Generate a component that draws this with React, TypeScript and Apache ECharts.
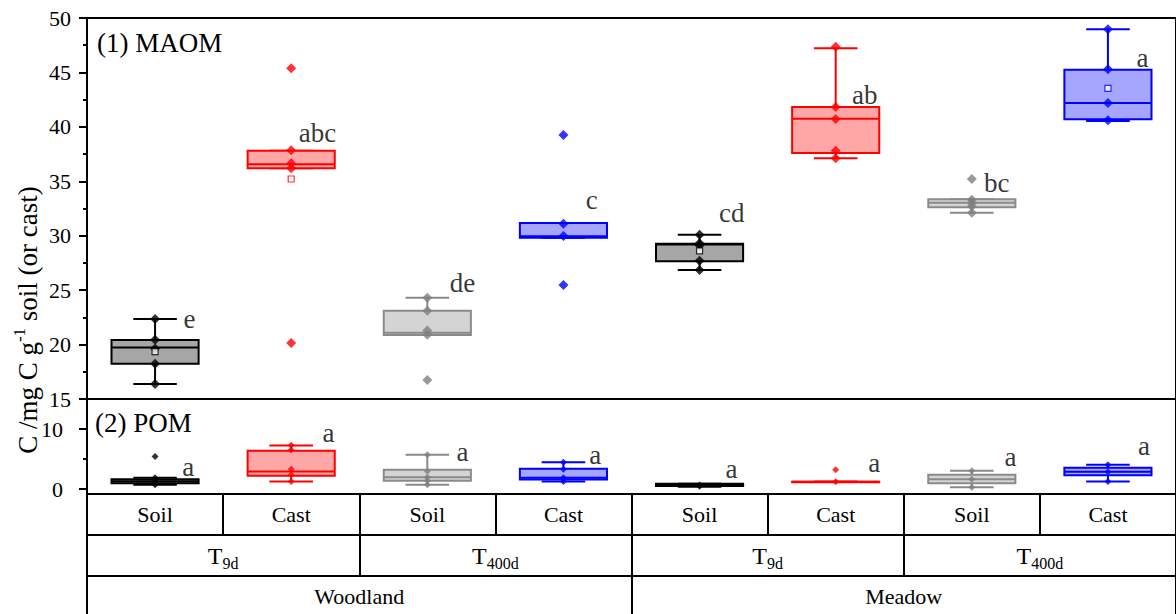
import React, { useEffect, useRef } from "react";
import * as echarts from "echarts";

const FONT = "Liberation Serif";

const groups = ["Soil", "Cast", "Soil", "Cast", "Soil", "Cast", "Soil", "Cast"];
const periods = ["T{s|9d}", "T{s|400d}", "T{s|9d}", "T{s|400d}"];
const sites = ["Woodland", "Meadow"];
const kinds = ["dark", "red", "light", "blue", "dark", "red", "light", "blue"];

// MAOM: [min, q1, median, q3, max]
const maomBoxes = [
  [16.38, 18.24, 19.72, 20.42, 22.35],
  [36.19, 36.19, 36.56, 37.81, 37.81],
  [20.88, 20.88, 21.09, 23.11, 24.31],
  [29.82, 29.82, 29.95, 31.17, 31.17],
  [26.85, 27.65, 29.2, 29.27, 30.1],
  [37.11, 37.6, 40.75, 41.82, 47.21],
  [32.12, 32.61, 33.03, 33.34, 33.34],
  [40.54, 40.69, 42.19, 45.25, 48.96],
];
const maomPoints = [
  [22.35, 20.45, 19.65, 18.24, 16.38],
  [45.38, 37.85, 36.65, 36.19, 20.14],
  [24.31, 23.11, 21.3, 20.9, 16.75],
  [39.25, 31.1, 29.97, 25.47],
  [30.1, 29.3, 29.1, 27.7, 26.85],
  [47.37, 41.82, 40.72, 37.81, 37.11],
  [35.21, 33.3, 33.0, 32.7, 32.12],
  [48.96, 45.3, 42.2, 40.6],
];
const maomMeans = [19.35, 35.21, null, null, 28.6, null, null, 43.54];
const maomLetters = ["e", "abc", "de", "c", "cd", "ab", "bc", "a"];
const maomLetterX = [0.708, 1.555, 2.664, 3.664, 4.642, 5.62, 6.59, 7.71];
const maomLetterY = [22.35, 39.44, 25.66, 33.28, 32.09, 42.93, 34.84, 46.33];

// POM
const pomBoxes = [
  [0.75, 1.0, 1.3, 1.67, 1.9],
  [1.28, 2.23, 2.95, 6.4, 7.28],
  [0.73, 1.4, 2.0, 3.23, 5.73],
  [1.28, 1.6, 1.9, 3.4, 4.5],
  [0.4, 0.55, 0.7, 0.9, 0.9],
  [1.23, 1.23, 1.23, 1.23, 1.23],
  [0.33, 1.0, 1.67, 2.4, 3.07],
  [1.28, 2.33, 2.9, 3.57, 4.07],
];
const pomPoints = [
  [5.45, 1.9, 1.3, 1.0, 0.75],
  [7.3, 6.5, 3.3, 2.4, 1.28],
  [5.73, 3.0, 2.0, 1.4, 0.73],
  [4.5, 3.3, 1.9, 1.28],
  [0.7, 0.5],
  [3.23, 1.23],
  [3.07, 1.67, 0.33],
  [4.07, 2.9, 1.28],
];
const pomLetters = ["a", "a", "a", "a", "a", "a", "a", "a"];
const pomLetterX = [0.7, 1.73, 2.715, 3.69, 4.69, 5.74, 6.74, 7.72];
const pomLetterY = [3.62, 9.28, 6.12, 5.62, 3.28, 4.28, 5.28, 7.12];

const palette: Record<string, { stroke: string; fill: string; point: string }> = {
  dark: { stroke: "#000000", fill: "#a6a6a6", point: "#000000" },
  red: { stroke: "#ff0000", fill: "#ffa6a6", point: "#ff0000" },
  light: { stroke: "#8a8a8a", fill: "#d4d4d4", point: "#808080" },
  blue: { stroke: "#0000ff", fill: "#a6a6ff", point: "#0000ff" },
};

function renderBox(params: any, api: any) {
  const i = api.value(0);
  const vals = [1, 2, 3, 4, 5].map((k) => api.value(k));
  const pts = vals.map((v: number) => api.coord([i, v]));
  const band = api.size([1, 0])[0];
  const bw = band * 0.64;
  const cw = band * 0.32;
  const cx = pts[0][0];
  const st = palette[kinds[params.dataIndex]];
  const ls = { stroke: st.stroke, lineWidth: 2 };
  return {
    type: "group",
    children: [
      { type: "line", shape: { x1: cx, y1: pts[4][1], x2: cx, y2: pts[3][1] }, style: ls },
      { type: "line", shape: { x1: cx, y1: pts[0][1], x2: cx, y2: pts[1][1] }, style: ls },
      { type: "line", shape: { x1: cx - cw / 2, y1: pts[4][1], x2: cx + cw / 2, y2: pts[4][1] }, style: ls },
      { type: "line", shape: { x1: cx - cw / 2, y1: pts[0][1], x2: cx + cw / 2, y2: pts[0][1] }, style: ls },
      {
        type: "rect",
        shape: { x: cx - bw / 2, y: pts[3][1], width: bw, height: Math.max(pts[1][1] - pts[3][1], 0.5) },
        style: { fill: st.fill, stroke: st.stroke, lineWidth: 2 },
      },
      { type: "line", shape: { x1: cx - bw / 2, y1: pts[2][1], x2: cx + bw / 2, y2: pts[2][1] }, style: ls },
    ],
  };
}

function pointData(points: number[][]) {
  const out: any[] = [];
  points.forEach((arr, i) => {
    arr.forEach((v) => {
      out.push({ value: [i, v], itemStyle: { color: palette[kinds[i]].point } });
    });
  });
  return out;
}

function meanData(means: (number | null)[]) {
  const out: any[] = [];
  means.forEach((v, i) => {
    if (v !== null) out.push({ value: [i, v], itemStyle: { borderColor: palette[kinds[i]].stroke } });
  });
  return out;
}

function letterData(letters: string[], xs: number[], ys: number[]) {
  return letters.map((l, i) => ({ name: l, value: [xs[i], ys[i]] }));
}

export default function App() {
  const ref = useRef<HTMLDivElement>(null);
  useEffect(() => {
    if (!ref.current) return;
    const chart = echarts.init(ref.current, null, { renderer: "svg" });
    const axisLabelFont = { fontFamily: FONT, fontSize: 22, color: "#000" };
    const letterLabel = {
      show: true,
      position: "right",
      distance: 0,
      formatter: (p: any) => p.name,
      fontFamily: FONT,
      fontSize: 27,
      color: "#000",
    };
    const tableLine = { show: true, onZero: false, lineStyle: { color: "#000", width: 2 } };
    const tableTick = { show: true, length: 41, interval: 0, lineStyle: { color: "#000", width: 2 } };
    const option: any = {
      animation: false,
      backgroundColor: "#fff",
      grid: [
        { left: 87, top: 18, width: 1096, height: 381, show: true, borderColor: "#000", borderWidth: 2, backgroundColor: "transparent" },
        { left: 87, top: 399, width: 1096, height: 95, show: true, borderColor: "#000", borderWidth: 2, backgroundColor: "transparent" },
      ],
      xAxis: [
        { type: "category", gridIndex: 0, data: groups, show: false, axisLine: { onZero: false } },
        { type: "value", gridIndex: 0, min: 0, max: 8, show: false, position: "top", axisLine: { onZero: false } },
        {
          type: "category",
          gridIndex: 1,
          data: groups,
          position: "bottom",
          axisLine: tableLine,
          axisTick: tableTick,
          axisLabel: { fontFamily: FONT, fontSize: 22, color: "#000", margin: 9, interval: 0 },
        },
        { type: "value", gridIndex: 1, min: 0, max: 8, show: false, position: "top", axisLine: { onZero: false } },
        {
          type: "category",
          gridIndex: 1,
          data: periods,
          position: "bottom",
          offset: 41,
          axisLine: tableLine,
          axisTick: tableTick,
          axisLabel: {
            fontFamily: FONT,
            fontSize: 24,
            color: "#000",
            margin: 6,
            interval: 0,
            lineHeight: 30,
            rich: { s: { fontFamily: FONT, fontSize: 16, lineHeight: 16, verticalAlign: "bottom", color: "#000" } },
          },
        },
        {
          type: "category",
          gridIndex: 1,
          data: sites,
          position: "bottom",
          offset: 82,
          axisLine: tableLine,
          axisTick: tableTick,
          axisLabel: { fontFamily: FONT, fontSize: 22, color: "#000", margin: 9, interval: 0 },
        },
      ],
      yAxis: [
        {
          type: "value",
          gridIndex: 0,
          min: 15,
          max: 50,
          interval: 5,
          axisLine: { show: true, lineStyle: { color: "#000", width: 2 } },
          axisTick: { show: true, length: 8, lineStyle: { color: "#000", width: 2 } },
          minorTick: { show: true, splitNumber: 2, length: 4, lineStyle: { color: "#000", width: 2 } },
          splitLine: { show: false },
          axisLabel: { ...axisLabelFont, margin: 16 },
        },
        {
          type: "value",
          gridIndex: 1,
          min: -0.8,
          max: 15,
          axisLine: { show: true, lineStyle: { color: "#000", width: 2 } },
          axisTick: { show: true, length: 8, customValues: [0, 10], lineStyle: { color: "#000", width: 2 } },
          splitLine: { show: false },
          axisLabel: { ...axisLabelFont, margin: 24, customValues: [0, 10] },
        },
        {
          type: "value",
          gridIndex: 1,
          min: -0.8,
          max: 15,
          position: "left",
          axisLine: { show: false },
          axisTick: { show: true, length: 4, customValues: [5], lineStyle: { color: "#000", width: 2 } },
          splitLine: { show: false },
          axisLabel: { show: false },
        },
      ],
      series: [
        {
          type: "custom",
          xAxisIndex: 0,
          yAxisIndex: 0,
          renderItem: renderBox,
          encode: { x: 0, y: [1, 2, 3, 4, 5] },
          data: maomBoxes.map((b, i) => [i, ...b]),
          z: 2,
        },
        {
          type: "scatter",
          xAxisIndex: 0,
          yAxisIndex: 0,
          symbol: "diamond",
          symbolSize: 10,
          data: pointData(maomPoints),
          z: 3,
        },
        {
          type: "scatter",
          xAxisIndex: 0,
          yAxisIndex: 0,
          symbol: "rect",
          symbolSize: 6,
          itemStyle: { color: "#fff", borderWidth: 1.2 },
          data: meanData(maomMeans),
          z: 4,
        },
        {
          type: "scatter",
          xAxisIndex: 1,
          yAxisIndex: 0,
          symbolSize: 0,
          label: letterLabel,
          data: letterData(maomLetters, maomLetterX, maomLetterY),
          z: 5,
        },
        {
          type: "custom",
          xAxisIndex: 2,
          yAxisIndex: 1,
          renderItem: renderBox,
          encode: { x: 0, y: [1, 2, 3, 4, 5] },
          data: pomBoxes.map((b, i) => [i, ...b]),
          z: 2,
        },
        {
          type: "scatter",
          xAxisIndex: 2,
          yAxisIndex: 1,
          symbol: "diamond",
          symbolSize: 7,
          data: pointData(pomPoints),
          z: 3,
        },
        {
          type: "scatter",
          xAxisIndex: 3,
          yAxisIndex: 1,
          symbolSize: 0,
          label: letterLabel,
          data: letterData(pomLetters, pomLetterX, pomLetterY),
          z: 5,
        },
      ],
      graphic: [
        {
          type: "text",
          left: 97,
          top: 29,
          style: { text: "(1) MAOM", fontFamily: FONT, fontSize: 27, fill: "#000" },
        },
        {
          type: "text",
          left: 95,
          top: 409,
          style: { text: "(2) POM", fontFamily: FONT, fontSize: 27, fill: "#000" },
        },
        {
          type: "text",
          x: 28,
          y: 320,
          rotation: Math.PI / 2,
          style: {
            text: "C /mg C g{sup|-1} soil (or cast)",
            fontFamily: FONT,
            fontSize: 27,
            fill: "#000",
            align: "center",
            verticalAlign: "middle",
            lineHeight: 34,
            rich: { sup: { fontFamily: FONT, fontSize: 17, lineHeight: 17, verticalAlign: "top", fill: "#000" } },
          },
        },
      ],
    };
    chart.setOption(option);
    return () => chart.dispose();
  }, []);
  return (
    <div
      ref={ref}
      style={{ position: "absolute", left: 0, top: 0, width: 1176, height: 614, background: "#fff" }}
    />
  );
}
